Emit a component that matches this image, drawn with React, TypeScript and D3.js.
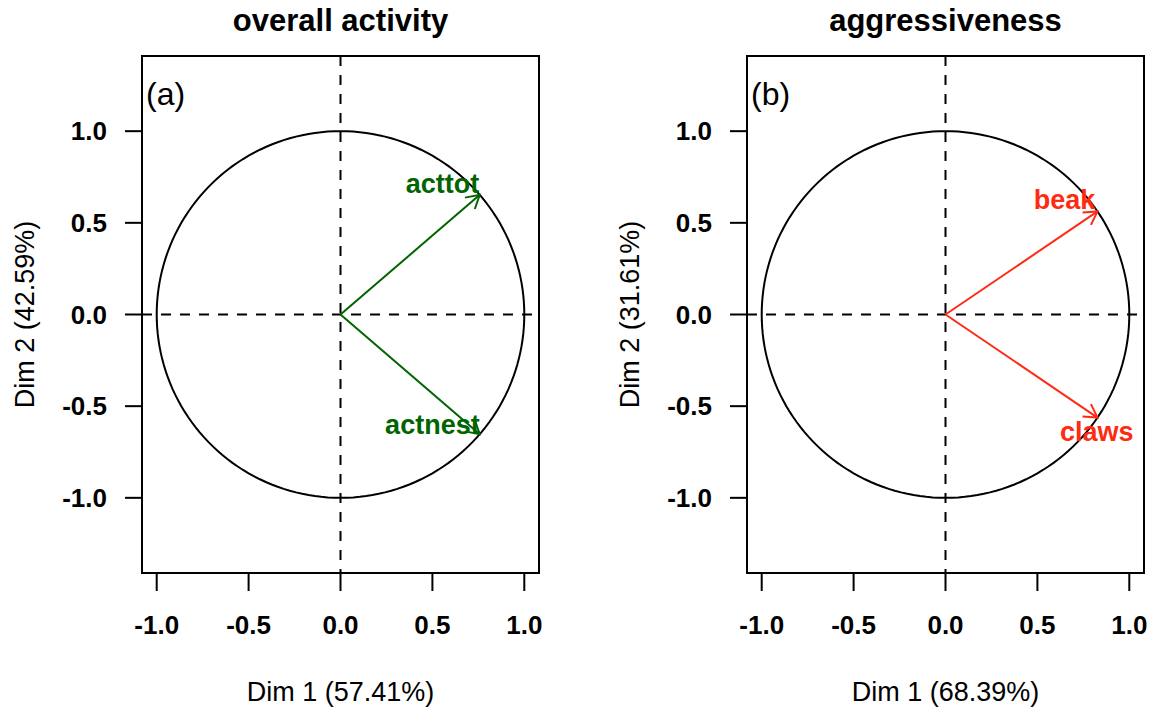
import React from "react";
import * as d3 from "d3";

const panelTitles = ["overall activity", "aggressiveness"];
const panelTags = ["(a)", "(b)"];
const xAxisTitles = ["Dim 1 (57.41%)", "Dim 1 (68.39%)"];
const yAxisTitles = ["Dim 2 (42.59%)", "Dim 2 (31.61%)"];
const tickValues = [-1.0, -0.5, 0.0, 0.5, 1.0];
const tickLabels = ["-1.0", "-0.5", "0.0", "0.5", "1.0"];

const varNamesA = ["acttot", "actnest"];
const dim1A = [0.7577, 0.7577];
const dim2A = [0.6526, -0.6526];
const labelXA = [0.555, 0.5];
const labelYA = [0.715, -0.6];

const varNamesB = ["beak", "claws"];
const dim1B = [0.827, 0.827];
const dim2B = [0.5622, -0.5622];
const labelXB = [0.648, 0.823];
const labelYB = [0.627, -0.638];

const colors = ["#006400", "#ff2a12"];

const W = 1154;
const H = 711;
const FONT = "'Liberation Sans', Arial, Helvetica, sans-serif";

const panels = [
  { names: varNamesA, d1: dim1A, d2: dim2A, lx: labelXA, ly: labelYA },
  { names: varNamesB, d1: dim1B, d2: dim2B, lx: labelXB, ly: labelYB },
];

function Panel({ idx }: { idx: number }) {
  const p = panels[idx];
  const left = 142 + idx * 605;
  const right = left + 397;
  const top = 56;
  const bottom = 573;
  const x = d3.scaleLinear().domain([-1.08, 1.08]).range([left, right]);
  const y = d3.scaleLinear().domain([-1.41, 1.41]).range([bottom, top]);
  const col = colors[idx];
  const circlePts = d3.range(0, 361, 2).map((a) => [Math.cos((a * Math.PI) / 180), Math.sin((a * Math.PI) / 180)] as [number, number]);
  const circlePath = d3.line<[number, number]>().x((d) => x(d[0])).y((d) => y(d[1]))(circlePts) || "";
  const headLen = 15;
  const headAng = (30 * Math.PI) / 180;
  return (
    <g>
      <text x={(left + right) / 2} y={31} textAnchor="middle" fontFamily={FONT} fontWeight="bold" fontSize={31}>
        {panelTitles[idx]}
      </text>
      <line x1={x(0)} x2={x(0)} y1={top} y2={bottom} stroke="#000" strokeWidth={2} strokeDasharray="10,9" />
      <line x1={left} x2={right} y1={y(0)} y2={y(0)} stroke="#000" strokeWidth={2} strokeDasharray="10,9" />
      <path d={circlePath} fill="none" stroke="#000" strokeWidth={2} />
      {p.names.map((n, i) => {
        const x0 = x(0), y0 = y(0);
        const x1 = x(p.d1[i]), y1 = y(p.d2[i]);
        const ang = Math.atan2(y1 - y0, x1 - x0);
        const h1x = x1 - headLen * Math.cos(ang - headAng);
        const h1y = y1 - headLen * Math.sin(ang - headAng);
        const h2x = x1 - headLen * Math.cos(ang + headAng);
        const h2y = y1 - headLen * Math.sin(ang + headAng);
        return (
          <g key={n}>
            <line x1={x0} y1={y0} x2={x1} y2={y1} stroke={col} strokeWidth={2} />
            <path d={`M${h1x},${h1y}L${x1},${y1}L${h2x},${h2y}`} fill="none" stroke={col} strokeWidth={2} />
            <text x={x(p.lx[i])} y={y(p.ly[i])} dy="0.35em" textAnchor="middle" fontFamily={FONT} fontWeight="bold" fontSize={27} fill={col}>
              {n}
            </text>
          </g>
        );
      })}
      <rect x={left} y={top} width={right - left} height={bottom - top} fill="none" stroke="#000" strokeWidth={2} />
      <text x={left + 4} y={105} fontFamily={FONT} fontSize={32}>{panelTags[idx]}</text>
      {tickValues.map((t, i) => (
        <g key={"x" + i}>
          <line x1={x(t)} x2={x(t)} y1={bottom} y2={bottom + 18} stroke="#000" strokeWidth={2} />
          <text x={x(t)} y={634} textAnchor="middle" fontFamily={FONT} fontWeight="bold" fontSize={26}>{tickLabels[i]}</text>
        </g>
      ))}
      {tickValues.map((t, i) => (
        <g key={"y" + i}>
          <line x1={left - 17} x2={left} y1={y(t)} y2={y(t)} stroke="#000" strokeWidth={2} />
          <text x={left - 35} y={y(t)} dy="0.35em" textAnchor="end" fontFamily={FONT} fontWeight="bold" fontSize={26}>{tickLabels[i]}</text>
        </g>
      ))}
      <text x={(left + right) / 2} y={701} textAnchor="middle" fontFamily={FONT} fontSize={27}>{xAxisTitles[idx]}</text>
      <text transform={`translate(${left - 108},${(top + bottom) / 2}) rotate(-90)`} textAnchor="middle" fontFamily={FONT} fontSize={27}>
        {yAxisTitles[idx]}
      </text>
    </g>
  );
}

export default function App() {
  return (
    <svg width={W} height={H} style={{ position: "absolute", left: 0, top: 0, background: "#fff" }}>
      <rect x={0} y={0} width={W} height={H} fill="#fff" />
      <Panel idx={0} />
      <Panel idx={1} />
    </svg>
  );
}
